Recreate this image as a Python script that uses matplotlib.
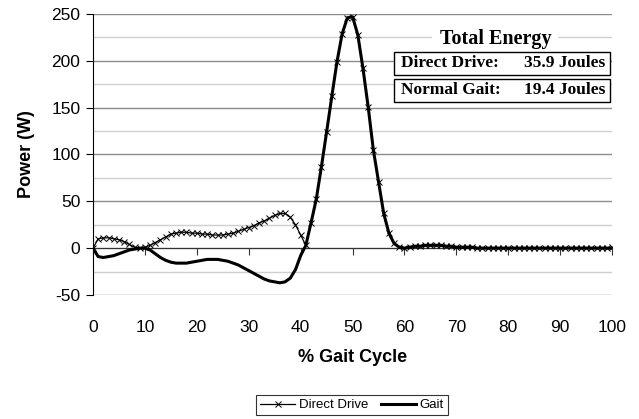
import numpy as np
import matplotlib.pyplot as plt
from matplotlib.patches import Rectangle

# % gait cycle, one sample per percent
gait_pct = list(range(0, 101))

direct_drive = [0, 10, 11, 11, 10, 9, 7, 4, 1, 0,
                1, 3, 6, 9, 12, 15, 16, 17, 17, 16,
                16, 15, 15, 14, 14, 14, 15, 16, 18, 20,
                22, 24, 27, 29, 32, 35, 37, 37, 33, 25,
                14, 3, 27, 52, 87, 124, 162, 199, 229, 246,
                247, 228, 192, 151, 105, 71, 37, 16, 5, 1,
                0, 1, 2, 2, 3, 3, 3, 3, 2, 2,
                1, 1, 1, 1, 0, 0, 0, 0, 0, 0,
                0, 0, 0, 0, 0, 0, 0, 0, 0, 0,
                0, 0, 0, 0, 0, 0, 0, 0, 0, 0, 1]

gait = [0, -9, -10, -9, -8, -6, -4, -2, -1, 0,
        0, -2, -6, -10, -13, -15, -16, -16, -16, -15,
        -14, -13, -12, -12, -12, -13, -14, -16, -18, -21,
        -24, -27, -30, -33, -35, -36, -37, -36, -32, -23,
        -8, 3, 27, 52, 87, 124, 162, 199, 229, 246,
        247, 228, 192, 151, 105, 71, 37, 16, 5, 1,
        0, 1, 2, 2, 3, 3, 3, 3, 2, 2,
        1, 1, 1, 1, 0, 0, 0, 0, 0, 0,
        0, 0, 0, 0, 0, 0, 0, 0, 0, 0,
        0, 0, 0, 0, 0, 0, 0, 0, 0, 0, 0]

energy_labels = ["Direct Drive:", "Normal Gait:"]
energy_values = ["35.9 Joules", "19.4 Joules"]

plt.rcParams['font.family'] = ['Liberation Sans', 'DejaVu Sans']
plt.rcParams['axes.unicode_minus'] = False

fig = plt.figure(figsize=(6.39, 4.19), dpi=100)
ax = fig.add_axes([0.1455, 0.296, 0.8125, 0.6706])

# gridlines (major every 50, minor every 25)
ax.set_ylim(-50, 250)
ax.set_xlim(0, 100)
ax.set_yticks(np.arange(-50, 251, 50))
ax.set_yticks(np.arange(-25, 250, 50), minor=True)
ax.grid(which='major', axis='y', color='#8c8c8c', lw=1)
ax.grid(which='minor', axis='y', color='#cfcfcf', lw=1)
ax.set_axisbelow(True)
ax.tick_params(axis='y', which='minor', length=0)
ax.tick_params(axis='y', which='major', length=5, labelsize=12.5, pad=4)

for s in ['top', 'right']:
    ax.spines[s].set_visible(False)
ax.spines['left'].set_color('black')

# x axis line sits on zero, labels stay at the bottom
ax.spines['bottom'].set_position(('data', 0))
ax.spines['bottom'].set_color('#333333')
ax.set_xticks(np.arange(0, 101, 10))
ax.tick_params(axis='x', length=5, labelbottom=False, color='#333333')
sec = ax.secondary_xaxis('bottom')
sec.set_xticks(np.arange(0, 101, 10))
sec.tick_params(length=0, labelsize=12.5, pad=18)
sec.spines['bottom'].set_visible(False)
sec.set_xlabel('% Gait Cycle', fontsize=13, fontweight='bold', labelpad=10)

ax.set_ylabel('Power (W)', fontsize=13, fontweight='bold', labelpad=12)

ax.plot(gait_pct, direct_drive, color='black', lw=0.9, marker='x', ms=4,
        mew=0.7, label='Direct Drive', zorder=3)
ax.plot(gait_pct, gait, color='black', lw=2.2, label='Gait', zorder=4)

# energy box
serif = ['Liberation Serif', 'DejaVu Serif']
ax.text(0.775, 0.91, 'Total Energy', transform=ax.transAxes, ha='center',
        va='center', fontsize=14.5, fontweight='bold', family=serif,
        bbox=dict(boxstyle='square,pad=0.35', fc='white', ec='none'), zorder=5)
rows = [(0.783, 0.8648), (0.687, 0.7687)]
for (y0, y1), lab, val in zip(rows, energy_labels, energy_values):
    ax.add_patch(Rectangle((0.580, y0), 0.416, y1 - y0, transform=ax.transAxes,
                           fc='white', ec='black', lw=1, zorder=5))
    ym = (y0 + y1) / 2
    ax.text(0.593, ym, lab, transform=ax.transAxes, ha='left', va='center',
            fontsize=12.5, fontweight='bold', family=serif, zorder=6)
    ax.text(0.986, ym, val, transform=ax.transAxes, ha='right', va='center',
            fontsize=12.5, fontweight='bold', family=serif, zorder=6)

leg = fig.legend(loc='center', bbox_to_anchor=(0.551, 0.033), ncol=2,
                 fontsize=9.5, frameon=True, fancybox=False, edgecolor='black',
                 handlelength=2.6, handletextpad=0.3, columnspacing=1.0,
                 borderpad=0.3)
leg.get_frame().set_linewidth(0.8)

fig.savefig('out.png', dpi=100)
